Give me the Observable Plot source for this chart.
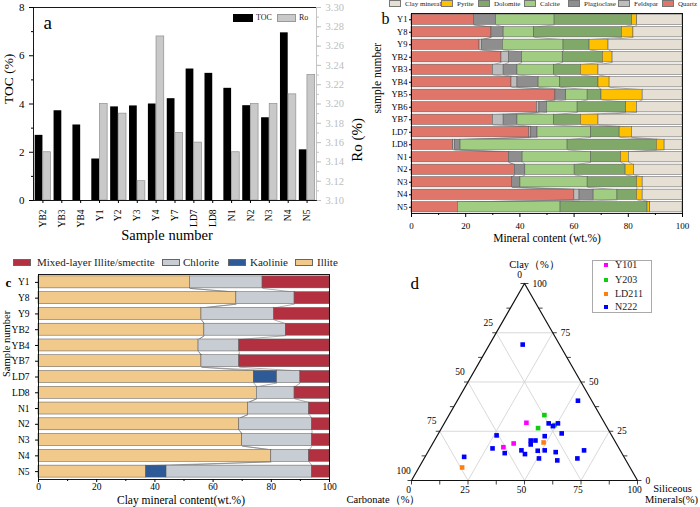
<!DOCTYPE html>
<html><head><meta charset="utf-8">
<script src="https://cdn.jsdelivr.net/npm/d3@7"></script>
<script src="https://cdn.jsdelivr.net/npm/@observablehq/plot@0.6"></script>
<style>
body{margin:0;background:#fff;}
#root{position:relative;width:700px;height:507px;overflow:hidden;font-family:"Liberation Serif","Times New Roman",serif;background:#fff;}
.panel{position:absolute;}
.panel svg{background:transparent;overflow:visible;}
.sw{position:absolute;box-sizing:border-box;border:1px solid #666;}
.lt{position:absolute;white-space:nowrap;color:#222;}
</style></head><body><div id="root"></div>
<script>
// ---------- Panel a data ----------
const samplesA = ["YB2","YB3","YB4","Y1","Y2","Y3","Y4","Y7","LD7","LD8","N1","N2","N3","N4","N5"];
const tocVals = [2.7,3.72,3.13,1.72,3.88,3.92,4.0,4.22,5.45,5.27,4.65,3.93,3.43,6.95,2.1];
const roVals  = [3.15,null,null,3.20,3.19,3.12,3.27,3.17,3.16,null,3.15,3.20,3.20,3.21,3.23];
const tocTicks = [0,2,4,6,8];
const tocMinor = [1,3,5,7];
const roTickLabels = ["3.10","3.12","3.14","3.16","3.18","3.20","3.22","3.24","3.26","3.28","3.30"];

// ---------- Panel b data ----------
const samplesB = ["Y1","Y8","Y9","YB2","YB3","YB4","YB5","YB6","YB7","LD7","LD8","N1","N2","N3","N4","N5"];
const quartz      = [23.0,29.5,25.1,33.2,30.0,36.9,53.1,46.3,30.0,43.5,15.4,35.9,38.1,37.1,60.1,17.1];
const feldspar    = [0,0,0.9,2.7,4.0,2.2,0,0.9,4.0,0.7,0.6,0,0,0,1.9,0];
const plagioclase = [8.2,4.5,7.7,4.9,5.1,7.8,4.0,2.8,5.1,2.3,2.1,5.1,3.9,3.1,5.2,0];
const calcite     = [21.6,11.3,22.4,15.0,13.5,8.0,7.9,11.3,13.5,19.7,39.5,25.2,18.2,24.8,8.8,37.9];
const dolomite    = [28.6,32.3,9.6,14.8,9.9,14.1,5.1,17.9,9.9,10.6,32.9,11.1,18.8,18.2,7.2,32.1];
const pyrite      = [1.9,4.3,7.0,3.6,6.5,4.1,15.2,4.0,6.5,4.5,2.9,2.9,3.1,2.1,2.1,1.0];
const clayMineral = [16.7,18.1,27.3,25.8,31.0,26.9,14.7,16.8,31.0,18.7,6.6,19.8,17.9,14.7,14.7,11.9];
const mineralNames  = ["Quartz","Feldspar","Plagioclase","Calcite","Dolomite","Pyrite","Clay mineral"];
const mineralColors = ["#e0756a","#bdbdbd","#8e8e8e","#a0cd82","#80a868","#ffc000","#e6e0d4"];
const legendOrderB  = ["Clay mineral","Pyrite","Dolomite","Calcite","Plagioclase","Feldspar","Quartz"];

// ---------- Panel c data ----------
const samplesC = ["Y1","Y8","Y9","YB2","YB4","YB7","LD7","LD8","N1","N2","N3","N4","N5"];
const illite    = [52,68,56,57,55,56,74,75,72,69,70,80,37];
const kaolinite = [0,0,0,0,0,0,8,0,0,0,0,0,7];
const chlorite  = [25,20,25,28,14,13,8,13,21,25,24,13,50];
const mixedIS   = [23,12,19,15,31,31,10,12,7,6,6,7,6];
const clayNames  = ["Illite","Kaolinie","Chlorite","Mixed-layer Illite/smectite"];
const clayColors = ["#f0c98b","#2f5a98","#c8cdd4","#b2303f"];
const legendOrderC = ["Mixed-layer Illite/smectite","Chlorite","Kaolinie","Illite"];
const pctTicks = [0,20,40,60,80,100];

// ---------- Panel d data: [clay, carbonate, siliceous] (%) ----------
const wellY101  = [[29.3,34.5,36.2],[18.8,45.4,35.8],[16.9,50.9,32.2]];
const wellY203  = [[33.2,24.6,42.2],[26.6,30.7,42.7],[28.1,22.7,49.2]];
const wellLD211 = [[19.3,31.9,48.8],[6.6,74.3,19.1]];
const wellN222  = [[69.0,16.3,14.7],[40.5,6.1,53.4],[29.0,24.8,46.2],[29.0,20.7,50.3],[27.6,23.6,48.8],
  [23.9,21.6,54.5],[22.9,50.9,26.2],[22.5,29.8,47.7],[20.3,37.1,42.6],[20.3,35.0,44.7],[18.3,38.1,43.6],
  [16.3,56.0,27.7],[13.9,51.8,34.3],[15.3,43.7,41.0],[13.4,43.1,43.5],[15.1,36.6,48.3],[15.3,33.4,51.3],
  [14.4,29.0,56.6],[15.3,16.0,68.7],[11.2,38.0,50.8],[10.2,30.4,59.4],[11.2,21.0,67.8],[12.0,70.7,17.3]];
const wellNames  = ["Y101","Y203","LD211","N222"];
const wellColors = ["#ff00ff","#11cc11","#ff7f0e","#0000ff"];
const ternTicks = [0,25,50,75,100];

// ---------------------------------------------------------------
const FONT = '"Liberation Serif","Times New Roman",serif';
const root = document.getElementById("root");
function place(node,left,top){const d=document.createElement("div");d.className="panel";d.style.left=left+"px";d.style.top=top+"px";d.appendChild(node);root.appendChild(d);}
function sw(x,y,w,h,color,border){const e=document.createElement("div");e.className="sw";Object.assign(e.style,{left:x+"px",top:y+"px",width:w+"px",height:h+"px",background:color});if(border)e.style.borderColor=border;root.appendChild(e);}
function lt(x,yc,text,fs){const e=document.createElement("div");e.className="lt";e.textContent=text;Object.assign(e.style,{left:x+"px",top:(yc-fs*0.6)+"px",fontSize:fs+"px",lineHeight:(fs*1.2)+"px"});root.appendChild(e);}
const baseStyle = {fontFamily:FONT,background:"transparent",overflow:"visible",color:"#000"};
const lbl = (s,opts) => Plot.text([s],{text:d=>d,lineAnchor:"middle",...opts});

// ---------- Panel a ----------
const roMin = +roTickLabels[0], roMax = +roTickLabels[roTickLabels.length-1], tocMax = tocTicks[tocTicks.length-1];
const roToY = v => (v-roMin)/(roMax-roMin)*tocMax;
const aRows = samplesA.map((s,i)=>({s,i,toc:tocVals[i],ro:roVals[i]}));
const roMinor = d3.range(roMin, roMax+1e-9, 0.01).map(roToY);
const plotA = Plot.plot({
  width:380,height:250,marginLeft:33,marginRight:64,marginTop:7,marginBottom:50,
  style:baseStyle,
  x:{domain:[-0.5,samplesA.length-0.5],axis:null},
  y:{domain:[0,tocMax],axis:null},
  marks:[
    Plot.rectY(aRows,{x1:d=>d.i-0.41,x2:d=>d.i,y1:0,y2:"toc",fill:"#000"}),
    Plot.rectY(aRows.filter(d=>d.ro!=null),{x1:d=>d.i+0.02,x2:d=>d.i+0.43,y1:0,y2:d=>roToY(d.ro),fill:"#c9c9c9",stroke:"#8f8f8f",strokeWidth:0.7}),
    Plot.frame({stroke:"#000",strokeWidth:0.9}),
    Plot.ruleX([samplesA.length-0.5],{stroke:"#c4c4c4",strokeWidth:1}),
    Plot.axisY(tocTicks,{anchor:"left",tickSize:4,fontSize:11,label:null}),
    Plot.axisY(tocMinor,{anchor:"left",tickSize:2,tickFormat:()=>"",label:null}),
    Plot.axisY(roTickLabels.map(t=>roToY(+t)),{anchor:"right",tickSize:4,fontSize:10.5,color:"#bdbdbd",label:null,
      tickFormat:v=>roTickLabels[Math.round(v/tocMax*(roTickLabels.length-1))]}),
    Plot.axisY(roMinor,{anchor:"right",tickSize:2,tickFormat:()=>"",color:"#c4c4c4",label:null}),
    Plot.axisX(samplesA.map((s,i)=>i),{tickFormat:i=>samplesA[i],tickRotate:-90,tickSize:3,fontSize:9.5,label:null}),
    lbl("TOC (%)",{frameAnchor:"left",dx:-25,rotate:-90,fontSize:13.5}),
    lbl("Ro (%)",{frameAnchor:"right",dx:41,dy:14,rotate:-90,fontSize:15}),
    lbl("Sample number",{frameAnchor:"bottom",dx:-8,dy:35,fontSize:14.5}),
    lbl("a",{frameAnchor:"top-left",dx:10,dy:15,fontSize:19})
  ]
});
place(plotA,0,0);
sw(233,14,20,8,"#000","#000"); lt(256,18,"TOC",8);
sw(277,14,19,8,"#c9c9c9","#999"); lt(299,18,"Ro",8);

// ---------- stacked helper ----------
function stackRows(samples, comps, names){
  const segs=[], cums=[];
  samples.forEach((s,i)=>{
    let c=0; const cum=[0];
    comps.forEach((arr,k)=>{const v=arr[i]; if(v>0) segs.push({i,name:names[k],x1:c,x2:c+v}); c+=v; cum.push(c);});
    cums.push(cum);
  });
  return {segs,cums};
}
function connectors(cums,h,nb){
  const out=[];
  for(let i=0;i<cums.length-1;i++) for(let k=1;k<=nb;k++)
    out.push({x1:cums[i][k],y1:i+h,x2:cums[i+1][k],y2:i+1-h});
  return out;
}

// ---------- Panel b ----------
const B = stackRows(samplesB,[quartz,feldspar,plagioclase,calcite,dolomite,pyrite,clayMineral],mineralNames);
const hB = 0.41;
const plotB = Plot.plot({
  width:350,height:250,marginLeft:61,marginRight:18,marginTop:13,marginBottom:37,
  style:baseStyle,
  x:{domain:[0,100],axis:null},
  y:{domain:[samplesB.length-0.5,-0.5],axis:null},
  color:{domain:mineralNames,range:mineralColors},
  marks:[
    Plot.link(connectors(B.cums,hB,6),{x1:"x1",y1:"y1",x2:"x2",y2:"y2",stroke:"#777",strokeWidth:0.6}),
    Plot.rectX(B.segs,{x1:"x1",x2:"x2",y1:d=>d.i-hB,y2:d=>d.i+hB,fill:"name",stroke:"#555",strokeWidth:0.5}),
    Plot.frame({stroke:"#000",strokeWidth:0.9}),
    Plot.axisX(pctTicks,{tickSize:4,fontSize:9,label:null}),
    Plot.axisX([10,30,50,70,90],{tickSize:2,tickFormat:()=>"",label:null}),
    Plot.axisY(samplesB.map((s,i)=>i),{anchor:"left",tickSize:2,tickPadding:2,tickFormat:i=>samplesB[i],fontSize:8.5,label:null}),
    lbl("Mineral content (wt.%)",{frameAnchor:"bottom",dy:25,fontSize:11.5}),
    lbl("sample number",{frameAnchor:"left",dx:-34,rotate:-90,fontSize:11.5}),
    lbl("b",{frameAnchor:"top-left",dx:-30,dy:5,fontSize:16})
  ]
});
place(plotB,350,0);
const legBx = {"Clay mineral":[389,405],"Pyrite":[441,457],"Dolomite":[478,494],"Calcite":[524,540],"Plagioclase":[568,584],"Feldspar":[618,634],"Quartz":[662,678]};
legendOrderB.forEach(n=>{const [sx,tx]=legBx[n]; sw(sx,0,12,7,mineralColors[mineralNames.indexOf(n)],"#777"); lt(tx,4,n,7);});

// ---------- Panel c ----------
const C = stackRows(samplesC,[illite,kaolinite,chlorite,mixedIS],clayNames);
const hC = 0.38;
const plotC = Plot.plot({
  width:350,height:257,marginLeft:38,marginRight:21,marginTop:24,marginBottom:28,
  style:baseStyle,
  x:{domain:[0,100],axis:null},
  y:{domain:[samplesC.length-0.5,-0.5],axis:null},
  color:{domain:clayNames,range:clayColors},
  marks:[
    Plot.link(connectors(C.cums,hC,3),{x1:"x1",y1:"y1",x2:"x2",y2:"y2",stroke:"#777",strokeWidth:0.6}),
    Plot.rectX(C.segs,{x1:"x1",x2:"x2",y1:d=>d.i-hC,y2:d=>d.i+hC,fill:"name",stroke:"#555",strokeWidth:0.5}),
    Plot.frame({stroke:"#000",strokeWidth:0.9}),
    Plot.axisX(pctTicks,{tickSize:3,tickPadding:1,fontSize:9.5,label:null}),
    Plot.axisX([10,30,50,70,90],{tickSize:2,tickFormat:()=>"",label:null}),
    Plot.axisY(samplesC.map((s,i)=>i),{anchor:"left",tickSize:3,tickFormat:i=>samplesC[i],fontSize:9.5,label:null}),
    lbl("Clay mineral content(wt.%)",{frameAnchor:"bottom",dx:-3,dy:21,fontSize:11.5}),
    lbl("Sample number",{frameAnchor:"left",dx:-32,rotate:-90,fontSize:10.5}),
    lbl("c",{frameAnchor:"top-left",dx:-33,dy:8,fontSize:13,fontWeight:"bold"})
  ]
});
place(plotC,0,250);
const legCx = {"Mixed-layer Illite/smectite":[13,37],"Chlorite":[162,183],"Kaolinie":[228,250],"Illite":[295,317]};
legendOrderC.forEach(n=>{const [sx,tx]=legCx[n]; sw(sx,259,18,7,clayColors[clayNames.indexOf(n)],"#666"); lt(tx,262.5,n,11);});

// ---------- Panel d (ternary) ----------
const S3 = Math.sqrt(3)/2;
const tp = (sil,clay) => ({x: sil + clay/2, y: clay*S3});
const pts = [];
[wellY101,wellY203,wellLD211,wellN222].forEach((arr,w)=>arr.forEach(([clay,carb,sil])=>pts.push({well:wellNames[w],...tp(sil,clay)})));
const gridV = ternTicks.slice(1,-1);
const gridLines = gridV.flatMap(v=>[
  [tp(0,v),tp(100-v,v)], [tp(v,0),tp(v,100-v)], [tp(100-v,0),tp(0,100-v)]
]).map(([a,b])=>({x1:a.x,y1:a.y,x2:b.x,y2:b.y}));
const edge = [tp(0,0),tp(100,0),tp(0,100),tp(0,0)];
const minorT = d3.range(0,100.01,12.5);
const pxX = 100/226.3, pxY = 86.6/196.7;
const tickL = minorT.map(c=>{const p=tp(0,c);return {x1:p.x,y1:p.y,x2:p.x-4*pxX,y2:p.y};});
const tickR = minorT.map(c=>{const p=tp(100-c,c);return {x1:p.x,y1:p.y,x2:p.x+4*pxX,y2:p.y};});
const tickB = minorT.map(s=>{const p=tp(s,0);return {x1:p.x,y1:p.y,x2:p.x,y2:p.y-4*pxY};});
const labL = ternTicks.map(v=>({...tp(0,100-v),t:String(v),dx:v===0?-5:(v===100?-9:-8)}));
const labR = ternTicks.map(v=>({...tp(100-v,v),t:String(v)}));
const labB = ternTicks.map(v=>({...tp(v,0),t:String(v)}));
const apex = tp(0,100), bl = tp(0,0), br = tp(100,0);
const plotD = Plot.plot({
  width:350,height:257,marginLeft:61,marginRight:63,marginTop:33,marginBottom:27,
  style:baseStyle,
  x:{domain:[0,100],axis:null},
  y:{domain:[0,100*S3],axis:null},
  color:{domain:wellNames,range:wellColors},
  marks:[
    Plot.link(gridLines,{x1:"x1",y1:"y1",x2:"x2",y2:"y2",stroke:"#cfcfcf",strokeWidth:0.8}),
    Plot.line(edge,{x:"x",y:"y",stroke:"#111",strokeWidth:1.2}),
    Plot.link([...tickL,...tickR,...tickB],{x1:"x1",y1:"y1",x2:"x2",y2:"y2",stroke:"#111",strokeWidth:0.8}),
    Plot.dot(pts,{x:"x",y:"y",fill:"well",symbol:"square",r:2.6}),
    Plot.text(labL.filter(d=>d.t!=="0"),{x:"x",y:"y",text:"t",dx:-8,dy:-10,fontSize:9.5}),
    Plot.text(labL.filter(d=>d.t==="0"),{x:"x",y:"y",text:"t",dx:-5,dy:-9,fontSize:9.5}),
    Plot.text(labR,{x:"x",y:"y",text:"t",dx:8,textAnchor:"start",fontSize:9.5}),
    Plot.text(labB,{x:"x",y:"y",text:"t",dx:-3,dy:9,fontSize:9.5}),
    Plot.text([apex],{x:"x",y:"y",text:()=>"Clay（%）",dx:10,dy:-19,fontSize:10.5}),
    Plot.text([bl],{x:"x",y:"y",text:()=>"Carbonate（%）",dx:-28,dy:19,fontSize:10.5}),
    Plot.text([br],{x:"x",y:"y",text:()=>"Siliceous",dx:35,dy:8,fontSize:10.5}),
    Plot.text([br],{x:"x",y:"y",text:()=>"Minerals(%)",dx:34,dy:19,fontSize:10.5}),
    lbl("d",{frameAnchor:"top-left",dx:-1,dy:0,fontSize:17})
  ]
});
place(plotD,350,250);
(function(){const b=document.createElement("div");Object.assign(b.style,{position:"absolute",left:"592px",top:"260px",width:"60px",height:"53px",border:"1px solid #aaa",boxSizing:"border-box"});root.appendChild(b);})();
const legDy=[265,280,294,307];
wellNames.forEach((n,i)=>{const e=document.createElement("div");Object.assign(e.style,{position:"absolute",left:"604px",top:(legDy[i]-2)+"px",width:"4px",height:"4px",background:wellColors[i]});root.appendChild(e); lt(615,legDy[i],n,10);});
</script></body></html>
